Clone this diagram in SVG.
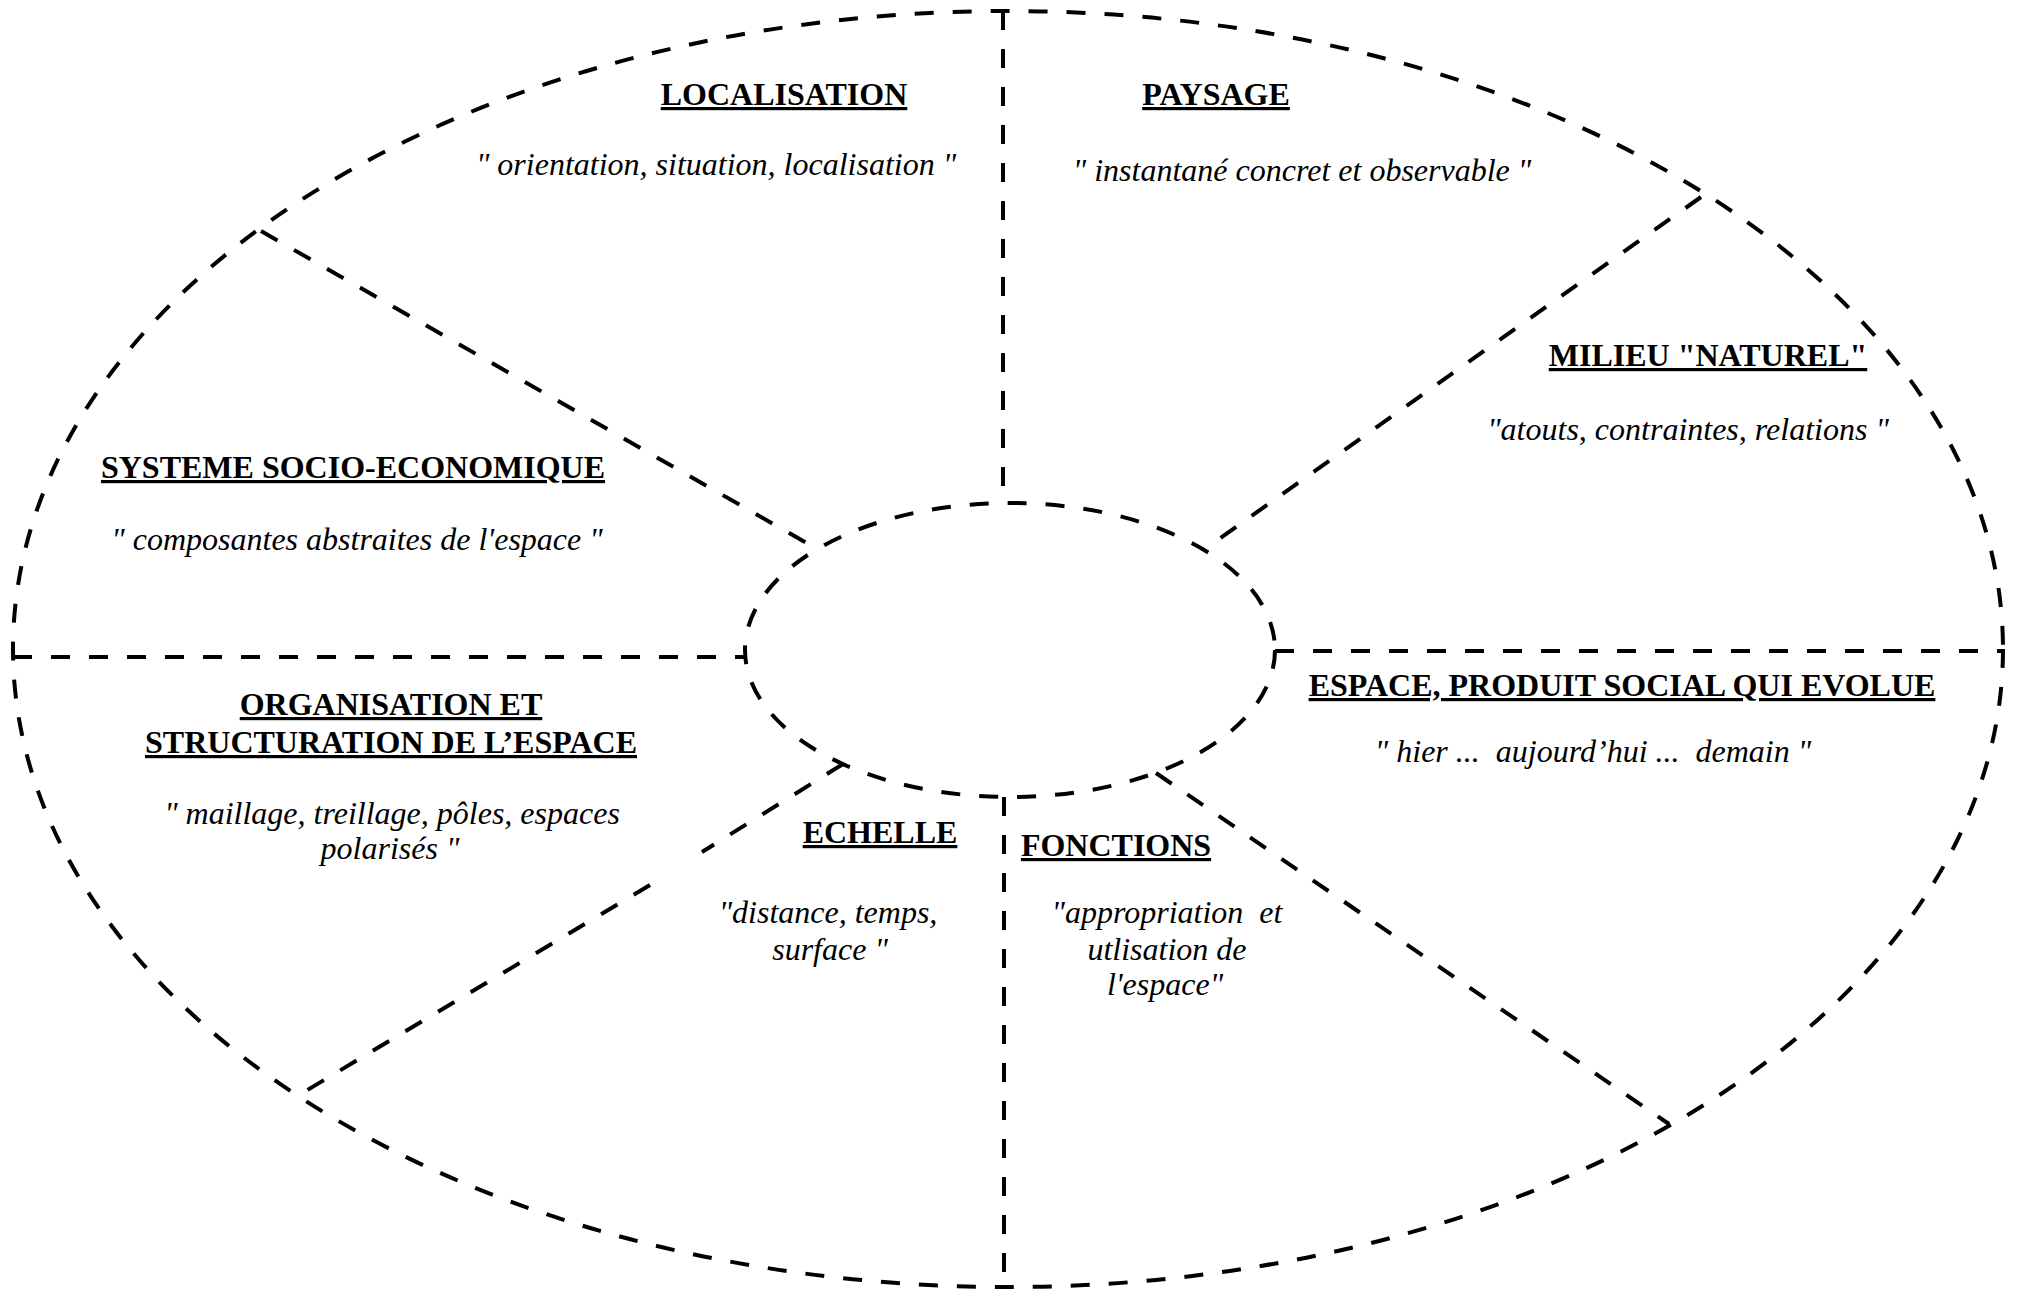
<svg xmlns="http://www.w3.org/2000/svg" width="2018" height="1290" viewBox="0 0 2018 1290">
<style>
.d{fill:none;stroke:#000;stroke-width:4;stroke-dasharray:19 19;stroke-linecap:butt}
.t{font-family:"Liberation Serif","Times New Roman",serif;font-size:32px;font-weight:bold;text-decoration:underline;text-anchor:middle;fill:#000}
.q{font-family:"Liberation Serif","Times New Roman",serif;font-size:32px;font-style:italic;text-anchor:middle;fill:#000;white-space:pre}
</style>
<rect width="2018" height="1290" fill="#fff"/>
<g id="frame">
<ellipse class="d" cx="1008" cy="649" rx="995" ry="638"/>
<ellipse class="d" cx="1010" cy="650" rx="265" ry="147"/>
</g>
<g id="connectors">
<line class="d" x1="1003" y1="11" x2="1003" y2="503"/>
<line class="d" x1="1004" y1="797" x2="1004" y2="1287"/>
<line class="d" x1="13" y1="657" x2="745" y2="657"/>
<line class="d" x1="1275" y1="651" x2="2003" y2="651"/>
<line class="d" x1="261" y1="231" x2="817" y2="549"/>
<line class="d" x1="1701" y1="197" x2="1205" y2="549"/>
<path class="d" d="M843 764 L702 852 M650 885 L299 1095"/>
<line class="d" x1="1156" y1="773" x2="1669" y2="1124"/>
</g>
<g id="localisation">
<text class="t" x="784" y="105">LOCALISATION</text>
<text class="q" x="716" y="175" xml:space="preserve">" orientation, situation, localisation "</text>
</g>
<g id="paysage">
<text class="t" x="1216" y="105">PAYSAGE</text>
<text class="q" x="1302" y="181" xml:space="preserve">" instantané concret et observable "</text>
</g>
<g id="milieu">
<text class="t" x="1708" y="366">MILIEU "NATUREL"</text>
<text class="q" x="1688" y="440" xml:space="preserve">"atouts, contraintes, relations "</text>
</g>
<g id="systeme">
<text class="t" x="353" y="478">SYSTEME SOCIO-ECONOMIQUE</text>
<text class="q" x="357" y="550" xml:space="preserve">" composantes abstraites de l'espace "</text>
</g>
<g id="organisation">
<text class="t" x="391" y="715">ORGANISATION ET</text>
<text class="t" x="391" y="753">STRUCTURATION DE L’ESPACE</text>
<text class="q" x="392" y="824" xml:space="preserve">" maillage, treillage, pôles, espaces</text>
<text class="q" x="390" y="859" xml:space="preserve">polarisés "</text>
</g>
<g id="espace">
<text class="t" x="1622" y="696">ESPACE, PRODUIT SOCIAL QUI EVOLUE</text>
<text class="q" x="1593" y="762" xml:space="preserve">" hier ...  aujourd’hui ...  demain "</text>
</g>
<g id="echelle">
<text class="t" x="880" y="843">ECHELLE</text>
<text class="q" x="828" y="923" xml:space="preserve">"distance, temps,</text>
<text class="q" x="830" y="960" xml:space="preserve">surface "</text>
</g>
<g id="fonctions">
<text class="t" x="1116" y="856">FONCTIONS</text>
<text class="q" x="1167" y="923" xml:space="preserve">"appropriation  et</text>
<text class="q" x="1167" y="960" xml:space="preserve">utlisation de</text>
<text class="q" x="1165" y="995" xml:space="preserve">l'espace"</text>
</g>
</svg>
